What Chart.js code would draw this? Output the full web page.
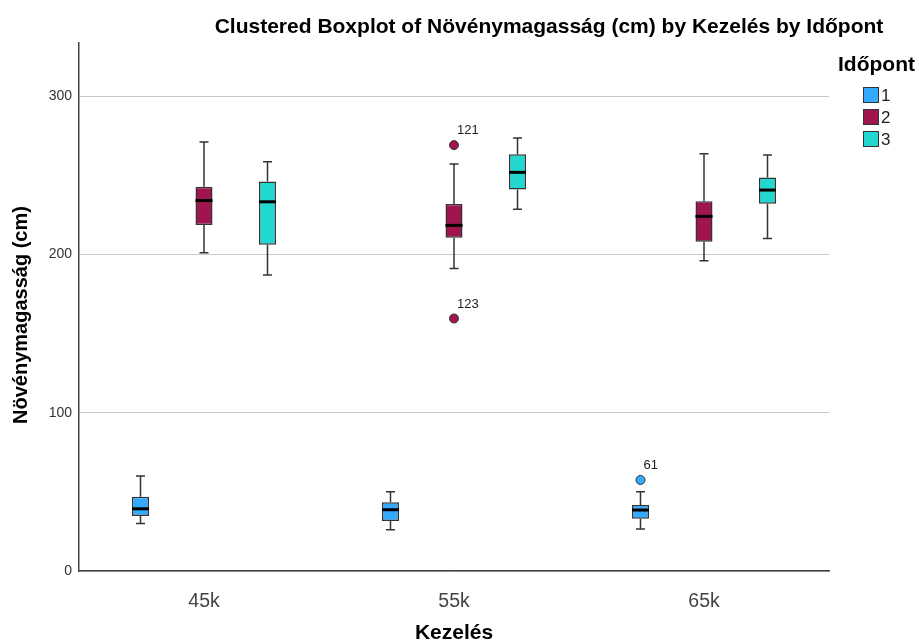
<!DOCTYPE html>
<html>
<head>
<meta charset="utf-8">
<script src="https://cdn.jsdelivr.net/npm/chart.js@4.4.1/dist/chart.umd.min.js"></script>
<style>
  html, body { margin: 0; padding: 0; background: #fff; }
  #wrap { width: 919px; height: 644px; }
</style>
</head>
<body>
<div id="wrap"><canvas id="chart"></canvas></div>
<script>
// Kezelés categories and Időpont groups
const categories = ["45k", "55k", "65k"];
const groups = ["1", "2", "3"];
const colors = ["#33aaff", "#a01550", "#20d8d0"];

// box statistics, one row per Időpont, one value per Kezelés
const whiskerLow = [[30, 26, 26.5], [201, 191, 196], [187, 228.5, 210]];
const quart1 = [[34.7, 31.6, 33], [218.5, 210.5, 208], [206, 241, 232]];
const medians = [[39.3, 38.7, 38.5], [234, 218.3, 224], [233.2, 251.8, 240.6]];
const quart3 = [[46.9, 43.4, 41.7], [242.7, 231.8, 233.5], [246, 263.2, 248.6]];
const whiskerHigh = [[60, 50, 50], [271, 257, 263.6], [258.5, 273.5, 262.7]];

// outliers
const outGroup = [0, 1, 1];
const outCategory = [2, 1, 1];
const outValues = [57.5, 269, 159.5];
const outIds = ["61", "121", "123"];

const yTicks = [0, 100, 200, 300];

const FONT = "'Liberation Sans', Arial, sans-serif";

const boxExtras = {
  id: "boxExtras",
  afterDatasetsDraw(chart) {
    const ctx = chart.ctx;
    const y = chart.scales.y;
    ctx.save();
    groups.forEach((g, i) => {
      const meta = chart.getDatasetMeta(i);
      meta.data.forEach((bar, j) => {
        const x = bar.x;
        const hw = bar.width / 2;
        const cap = 4.5;
        ctx.strokeStyle = "#333";
        ctx.lineWidth = 1.5;
        ctx.beginPath();
        ctx.moveTo(x, y.getPixelForValue(quart3[i][j]));
        ctx.lineTo(x, y.getPixelForValue(whiskerHigh[i][j]));
        ctx.moveTo(x - cap, y.getPixelForValue(whiskerHigh[i][j]));
        ctx.lineTo(x + cap, y.getPixelForValue(whiskerHigh[i][j]));
        ctx.moveTo(x, y.getPixelForValue(quart1[i][j]));
        ctx.lineTo(x, y.getPixelForValue(whiskerLow[i][j]));
        ctx.moveTo(x - cap, y.getPixelForValue(whiskerLow[i][j]));
        ctx.lineTo(x + cap, y.getPixelForValue(whiskerLow[i][j]));
        ctx.stroke();
        ctx.strokeStyle = "#000";
        ctx.lineWidth = 3;
        ctx.beginPath();
        ctx.moveTo(x - hw, y.getPixelForValue(medians[i][j]));
        ctx.lineTo(x + hw, y.getPixelForValue(medians[i][j]));
        ctx.stroke();
      });
    });
    outValues.forEach((v, k) => {
      const bar = chart.getDatasetMeta(outGroup[k]).data[outCategory[k]];
      const py = y.getPixelForValue(v);
      ctx.beginPath();
      ctx.arc(bar.x, py, 4.5, 0, Math.PI * 2);
      ctx.fillStyle = colors[outGroup[k]];
      ctx.fill();
      ctx.strokeStyle = "#333";
      ctx.lineWidth = 1;
      ctx.stroke();
      ctx.fillStyle = "#222";
      ctx.font = "13px " + FONT;
      ctx.textAlign = "left";
      ctx.textBaseline = "bottom";
      ctx.fillText(outIds[k], bar.x + 3, py - 8);
    });
    ctx.restore();
  },
  afterDraw(chart) {
    const ctx = chart.ctx;
    const area = chart.chartArea;
    ctx.save();
    ctx.fillStyle = "#000";
    ctx.font = "bold 21px " + FONT;
    ctx.textAlign = "center";
    ctx.textBaseline = "middle";
    ctx.fillText("Clustered Boxplot of Növénymagasság (cm) by Kezelés by Időpont", 549, 27);
    ctx.fillText("Kezelés", (area.left + area.right) / 2, 633);
    ctx.save();
    ctx.translate(21, 315);
    ctx.rotate(-Math.PI / 2);
    ctx.font = "bold 20px " + FONT;
    ctx.fillText("Növénymagasság (cm)", 0, 0);
    ctx.restore();
    // legend
    ctx.textAlign = "left";
    ctx.fillText("Időpont", 838, 65);
    ctx.font = "17px " + FONT;
    groups.forEach((g, i) => {
      const top = 87 + 22 * i;
      ctx.fillStyle = colors[i];
      ctx.fillRect(863, top, 16, 16);
      ctx.strokeStyle = "#333";
      ctx.lineWidth = 1;
      ctx.strokeRect(863.5, top + 0.5, 15, 15);
      ctx.fillStyle = "#222";
      ctx.fillText(g, 881, top + 9);
    });
    ctx.restore();
  }
};

new Chart(document.getElementById("chart"), {
  type: "bar",
  data: {
    labels: categories,
    datasets: groups.map((g, i) => ({
      label: g,
      data: categories.map((c, j) => [quart1[i][j], quart3[i][j]]),
      backgroundColor: colors[i],
      borderColor: "#333",
      borderWidth: 1.5,
      borderSkipped: false,
      categoryPercentage: 0.762,
      barPercentage: 0.268
    }))
  },
  options: {
    responsive: true,
    maintainAspectRatio: false,
    animation: false,
    layout: { padding: { top: 43, right: 90, left: 0, bottom: 0 } },
    plugins: {
      legend: { display: false },
      tooltip: { enabled: false }
    },
    scales: {
      x: {
        grid: { display: false },
        border: { display: true, color: "#444", width: 1.5 },
        ticks: { color: "#444", font: { family: FONT, size: 19.5 }, padding: 11 },
        afterFit(scale) { scale.height = 73; }
      },
      y: {
        min: 0,
        max: 333.5,
        grid: { color: "#c8c8c8", lineWidth: 1, drawTicks: false },
        border: { display: true, color: "#444", width: 1.5 },
        ticks: { color: "#333", font: { family: FONT, size: 14 }, padding: 7, stepSize: 100 },
        afterBuildTicks(scale) { scale.ticks = yTicks.map(v => ({ value: v })); },
        afterFit(scale) { scale.width = 79; }
      }
    }
  },
  plugins: [boxExtras]
});
</script>
</body>
</html>
